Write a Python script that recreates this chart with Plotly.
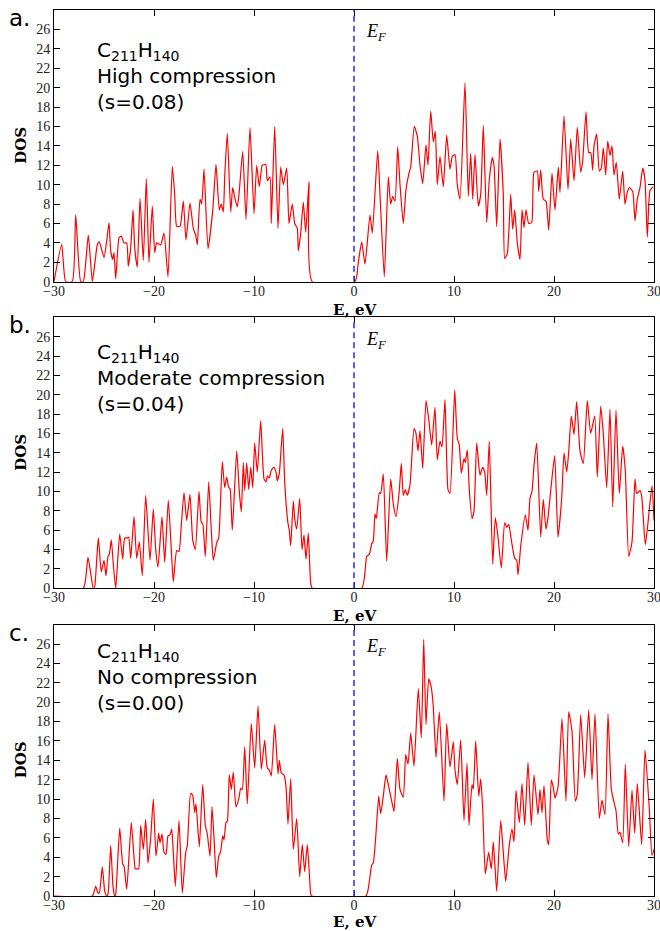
import plotly.graph_objects as go

# ---------------- data ----------------
energy_a = [-30.0, -29.23, -28.83, -28.17, -27.83, -27.33, -27.07, -26.57, -26.17, -25.9, -25.67, -25.47,
            -25.0, -24.73, -24.5, -24.33, -24.13, -24.0, -23.83, -23.5, -23.27, -23.0, -22.73, -22.57,
            -22.33, -22.1, -21.93, -21.67, -21.4, -21.07, -20.77, -20.5, -20.17, -19.93, -19.73, -19.33,
            -19.0, -18.6, -18.17, -17.93, -17.73, -17.4, -17.07, -16.8, -16.4, -16.07, -15.83, -15.67,
            -15.4, -15.23, -15.0, -14.6, -14.13, -13.8, -13.47, -13.27, -13.07, -12.93, -12.67, -12.33,
            -12.13, -11.93, -11.67, -11.5, -11.13, -10.8, -10.4, -10.0, -9.73, -9.47, -9.17, -8.83,
            -8.67, -8.4, -8.27, -7.93, -7.6, -7.33, -7.07, -6.73, -6.5, -6.17, -5.93, -5.67, -5.57,
            -5.33, -5.07, -4.83, -4.5, -4.17,
            0.1, 0.43, 0.77, 1.1, 1.6, 1.83, 2.37, 2.6, 3.03, 3.43, 3.67, 3.87, 4.1, 4.37, 4.6, 4.93,
            5.2, 5.5, 5.67, 6.03, 6.33, 6.6, 6.87, 7.2, 7.4, 7.67, 7.93, 8.13, 8.33, 8.6, 8.93, 9.27,
            9.6, 9.83, 10.1, 10.33, 10.6, 11.1, 11.43, 11.67, 11.87, 12.1, 12.43, 12.67, 12.93, 13.27,
            13.53, 13.83, 14.0, 14.27, 14.6, 14.93, 15.07, 15.33, 15.67, 15.87, 16.07, 16.33, 16.6,
            16.8, 17.0, 17.2, 17.47, 17.77, 18.0, 18.33, 18.47, 18.67, 18.93, 19.2, 19.47, 19.8, 20.1,
            20.43, 20.6, 21.0, 21.4, 21.67, 22.0, 22.33, 22.67, 22.87, 23.2, 23.47, 23.67, 23.87, 24.0,
            24.27, 24.53, 24.73, 24.93, 25.17, 25.37, 25.6, 25.8, 26.0, 26.23, 26.53, 26.87, 27.1,
            27.33, 27.53, 27.87, 28.1, 28.33, 28.6, 28.87, 29.1, 29.33, 29.6, 29.93]
dos_a = [0.0, 3.85, 0.0, 0.0, 6.9, 0.0, 0.0, 4.8, 0.0, 2.0, 3.8, 4.1,
         2.5, 4.2, 6.1, 3.2, 2.3, 3.0, 0.3, 4.5, 4.7, 4.0, 4.0, 1.6,
         3.5, 7.4, 3.5, 1.5, 8.6, 2.2, 10.6, 2.0, 7.8, 3.0, 4.0, 3.8,
         5.0, 0.5, 11.9, 9.0, 5.7, 5.7, 8.3, 4.3, 8.1, 5.5, 4.8, 3.8,
         8.5, 8.0, 11.6, 3.4, 7.3, 12.1, 7.4, 8.0, 7.2, 10.8, 15.3, 7.2,
         9.7, 8.7, 7.7, 9.0, 13.4, 6.4, 15.9, 7.0, 12.0, 9.8, 12.0, 12.1,
         10.4, 10.8, 6.0, 16.0, 5.5, 11.8, 10.0, 11.7, 6.0, 8.0, 6.0, 5.5, 3.2,
         5.0, 8.2, 5.1, 10.3, 0.0,
         0.0, 2.0, 4.1, 1.8, 6.9, 5.0, 13.5, 9.0, 0.5, 10.8, 8.0, 8.8, 8.3, 13.9, 10.0, 6.0,
         9.5, 11.2, 11.8, 16.0, 15.0, 12.0, 10.1, 14.1, 12.0, 17.6, 14.4, 15.5, 10.0, 12.9, 9.8, 15.1,
         11.6, 12.9, 13.1, 10.0, 8.5, 20.5, 8.8, 13.2, 8.5, 13.1, 7.8, 9.0, 16.1, 6.1,
         10.5, 12.8, 12.0, 5.7, 14.7, 9.0, 2.4, 2.9, 9.0, 5.4, 7.4, 4.0, 2.3,
         7.4, 5.6, 7.4, 6.0, 6.1, 11.3, 11.4, 9.3, 11.5, 8.5, 8.3, 5.3, 11.2, 7.4,
         11.8, 9.2, 17.1, 9.5, 14.7, 10.4, 15.9, 11.3, 12.5, 17.5, 13.3, 13.3, 11.5, 14.0,
         15.2, 11.4, 11.7, 13.8, 11.0, 14.5, 13.0, 14.0, 11.0, 12.3, 8.5, 11.4, 8.0,
         9.2, 9.7, 9.3, 6.3, 8.5, 9.7, 11.7, 10.5, 4.6, 9.4, 9.8]

energy_b = [-30.0, -27.07, -26.6, -26.07, -25.93, -25.57, -25.27, -25.0, -24.8, -24.6, -24.47, -24.27,
            -24.07, -23.83, -23.43, -23.13, -22.93, -22.67, -22.53, -22.33, -22.0, -21.73, -21.47,
            -21.17, -20.83, -20.4, -20.07, -19.83, -19.6, -19.2, -18.93, -18.57, -18.27, -18.07,
            -17.73, -17.5, -17.27, -17.0, -16.73, -16.4, -16.13, -15.87, -15.5, -15.27, -15.13,
            -14.87, -14.53, -14.27, -14.07, -13.73, -13.53, -13.17, -12.93, -12.73, -12.53, -12.4,
            -12.17, -11.73, -11.47, -11.27, -11.07, -10.93, -10.73, -10.53, -10.33, -10.13, -9.93,
            -9.67, -9.33, -9.0, -8.8, -8.67, -8.47, -8.27, -8.0, -7.8, -7.67, -7.47, -7.13, -6.93,
            -6.6, -6.47, -6.33, -6.07, -5.93, -5.73, -5.43, -5.2, -5.0, -4.8, -4.57, -4.33, -4.17,
            0.77, 1.27, 1.53, 1.77, 1.93, 2.1, 2.23, 2.53, 2.67, 2.93, 3.27, 3.67, 3.93, 4.2, 4.53,
            4.73, 4.93, 5.13, 5.33, 5.6, 6.0, 6.2, 6.4, 6.6, 6.87, 7.2, 7.47, 7.77, 8.1, 8.33, 8.6,
            8.8, 9.1, 9.4, 9.6, 10.07, 10.33, 10.53, 10.73, 11.0, 11.13, 11.33, 11.53, 11.8, 12.0,
            12.27, 12.6, 12.87, 13.07, 13.27, 13.53, 13.87, 14.13, 14.4, 14.73, 15.07, 15.27, 15.47,
            15.73, 16.07, 16.27, 16.4, 16.7, 17.13, 17.4, 17.6, 17.8, 18.0, 18.27, 18.67, 18.93,
            19.2, 19.4, 19.73, 20.07, 20.4, 20.77, 21.0, 21.27, 21.47, 21.73, 22.0, 22.27, 22.6,
            22.93, 23.33, 23.67, 24.07, 24.33, 24.67, 24.93, 25.27, 25.6, 25.87, 26.2, 26.53, 26.87,
            27.13, 27.47, 27.8, 28.1, 28.27, 28.6, 28.77, 29.13, 29.4, 29.8, 30.0]
dos_b = [0.0, 0.0, 3.2, 0.0, 0.2, 5.2, 1.7, 2.9, 1.3, 3.3, 3.5, 5.0,
         2.5, 0.0, 5.6, 3.0, 5.2, 5.2, 5.3, 3.1, 7.4, 3.1, 4.8,
         1.3, 9.6, 2.9, 8.2, 4.0, 2.2, 7.4, 2.7, 9.1, 4.0, 0.7,
         3.9, 3.8, 6.5, 9.9, 7.0, 9.7, 5.0, 4.0, 10.0, 6.8, 6.7,
         3.3, 11.0, 6.0, 2.9, 4.7, 5.2, 13.1, 10.4, 11.5, 10.4, 10.3,
         6.0, 14.2, 10.0, 7.9, 13.0, 10.1, 13.0, 10.2, 12.5, 10.4, 15.0,
         12.0, 17.3, 11.3, 11.0, 11.6, 11.4, 12.2, 12.5, 12.0, 11.1, 11.9, 16.5, 11.0,
         6.7, 6.0, 4.4, 9.0, 7.2, 6.1, 9.3, 4.0, 5.5, 3.0, 5.7, 0.5, 0.0,
         0.0, 3.3, 3.5, 4.6, 4.9, 7.7, 7.2, 9.9, 9.8, 11.8, 2.8, 11.3, 8.7, 7.4, 10.1,
         12.9, 9.6, 10.2, 9.6, 10.7, 16.5, 16.0, 14.2, 16.3, 12.4, 19.4, 17.5, 14.8, 18.7, 13.3, 15.2,
         14.6, 19.5, 10.2, 9.8, 20.5, 15.5, 14.8, 11.9, 13.4, 13.0, 14.3, 10.2, 7.2, 8.0,
         15.0, 11.7, 12.5, 12.0, 9.6, 15.2, 2.5, 7.3, 5.3, 2.1, 6.8, 6.3, 6.6,
         5.0, 3.1, 2.9, 1.4, 4.6, 7.6, 6.0, 9.3, 10.0, 12.7, 15.0, 5.3, 9.2,
         6.1, 7.3, 10.7, 13.7, 5.3, 9.3, 14.0, 12.0, 14.1, 17.8, 15.9, 19.3, 14.2,
         12.9, 19.4, 16.0, 17.8, 11.5, 18.8, 16.0, 10.4, 18.5, 8.4, 18.4, 9.8, 14.7,
         12.2, 3.3, 4.8, 11.3, 9.8, 10.1, 9.5, 4.5, 6.8, 10.6, 7.0]

energy_c = [-30.0, -26.17, -25.83, -25.6, -25.47, -25.17, -24.93, -24.73, -24.6, -24.33, -24.1, -23.93,
            -23.83, -23.43, -23.13, -23.0, -22.73, -22.27, -22.0, -21.87, -21.67, -21.53, -21.33,
            -21.07, -20.83, -20.6, -20.33, -20.07, -19.8, -19.53, -19.4, -19.2, -19.0, -18.8, -18.6,
            -18.4, -18.23, -18.07, -17.87, -17.5, -17.17, -16.83, -16.67, -16.33, -16.13, -15.93,
            -15.8, -15.47, -15.13, -14.87, -14.67, -14.4, -14.2, -14.0, -13.77, -13.53, -13.33,
            -13.13, -13.0, -12.8, -12.67, -12.47, -12.27, -12.07, -11.8, -11.53, -11.33, -11.17,
            -10.93, -10.67, -10.27, -9.93, -9.6, -9.27, -8.93, -8.67, -8.47, -8.27, -7.93, -7.6,
            -7.47, -7.27, -7.0, -6.8, -6.6, -6.33, -6.07, -5.73, -5.43, -5.17, -4.93, -4.67, -4.5,
            -4.33, -4.23,
            1.2, 1.53, 1.77, 1.93, 2.2, 2.47, 2.67, 2.93, 3.2, 3.43, 3.77, 4.0, 4.33, 4.6, 4.93, 5.17,
            5.4, 5.67, 6.0, 6.43, 6.73, 6.97, 7.2, 7.47, 7.73, 7.93, 8.2, 8.53, 9.0, 9.27, 9.6, 9.93,
            10.1, 10.33, 10.67, 11.0, 11.3, 11.5, 11.8, 11.93, 12.17, 12.47, 12.67, 12.87, 13.13,
            13.47, 13.73, 13.93, 14.27, 14.67, 14.93, 15.17, 15.53, 15.8, 16.0, 16.2, 16.53, 16.8,
            17.07, 17.4, 17.73, 18.0, 18.4, 18.6, 18.8, 19.0, 19.33, 19.47, 19.73, 19.93, 20.1, 20.4,
            20.8, 21.2, 21.47, 21.8, 22.13, 22.33, 22.67, 23.07, 23.47, 23.8, 24.1, 24.53, 24.8, 25.1,
            25.4, 25.73, 25.93, 26.2, 26.43, 26.6, 26.87, 27.13, 27.47, 27.8, 28.07, 28.33, 28.77,
            29.1, 29.53, 29.8, 30.07]
dos_c = [0.0, 0.0, 1.0, 0.3, 0.3, 3.0, 0.5, 0.0, 0.2, 5.2, 1.0, 0.0,
         0.2, 7.0, 3.3, 3.1, 0.7, 7.6, 4.0, 2.8, 2.8, 2.8, 7.3,
         4.8, 7.9, 3.4, 6.0, 10.0, 4.1, 6.5, 5.5, 6.4, 4.5, 4.3, 6.2,
         6.3, 6.9, 4.5, 1.0, 7.8, 0.3, 4.5, 5.2, 10.6, 10.4, 8.6,
         9.5, 5.1, 11.5, 7.3, 6.4, 4.1, 9.2, 6.0, 1.9, 4.1, 4.6,
         6.2, 5.8, 7.6, 7.7, 12.5, 11.0, 12.8, 9.2, 10.0, 11.1, 11.0,
         15.4, 9.5, 17.8, 13.2, 19.6, 13.1, 16.1, 13.2, 13.0, 12.4, 17.7, 12.6,
         14.0, 12.7, 12.5, 11.3, 7.4, 12.1, 4.8, 8.0, 2.0, 5.3, 2.5, 5.3, 3.0,
         0.2, 0.0,
         0.0, 1.5, 3.2, 3.4, 6.5, 10.3, 8.5, 10.3, 12.5, 11.5, 9.8, 8.7, 14.2, 11.0, 10.2, 14.6,
         13.6, 16.8, 13.4, 21.4, 16.3, 26.5, 17.7, 22.4, 21.5, 19.5, 14.3, 19.0, 9.8, 17.8, 13.3, 15.9,
         13.0, 11.5, 16.1, 7.8, 13.7, 7.3, 11.5, 11.0, 16.0, 10.3, 12.1, 9.0, 2.3,
         4.5, 2.8, 5.6, 0.5, 7.8, 4.5, 1.5, 5.3, 6.9, 5.6, 10.9, 7.6, 11.6,
         7.3, 13.8, 7.3, 12.5, 8.4, 11.0, 8.6, 11.4, 5.8, 5.3, 12.0, 11.2, 10.1, 11.2,
         18.3, 9.8, 19.0, 17.0, 9.8, 10.5, 18.7, 12.2, 19.2, 12.0, 18.8, 8.0, 9.9, 8.4,
         18.8, 11.0, 10.0, 8.8, 6.4, 6.6, 5.5, 13.6, 5.1, 10.9, 6.5, 11.6, 5.3,
         15.1, 9.0, 4.2, 5.0]

panel_letters = ["a.", "b.", "c."]
compression_labels = ["High compression", "Moderate compression", "No compression"]
s_labels = ["(s=0.08)", "(s=0.04)", "(s=0.00)"]
formula = "C<sub>211</sub>H<sub>140</sub>"
x_ticks = [-30, -20, -10, 0, 10, 20, 30]
y_ticks = list(range(0, 27, 2))

# ---------------- layout helpers ----------------
W, H = 660, 931
ML, MR, MT, MB = 54, 6, 10, 35
PW, PH = W - ML - MR, H - MT - MB


def px(xp):
    return (xp - ML) / PW


def py(yp):
    return 1 - (yp - MT) / PH


# pixel positions of each panel (top, bottom)
panels_px = [(10.0, 281.7), (317.3, 588.3), (624.7, 896.0)]
series = [(energy_a, dos_a), (energy_b, dos_b), (energy_c, dos_c)]
label_gap = [28.5, 27.5, 25.5]

fig = go.Figure()
serif = "Liberation Serif"
bold_serif = "DejaVu Serif"
sans = "DejaVu Sans"

annotations = []
shapes = []
for i, ((top, bot), (ex, dy)) in enumerate(zip(panels_px, series)):
    n = "" if i == 0 else str(i + 1)
    xa = "x" + n
    ya = "y" + n
    fig.add_trace(go.Scatter(x=ex, y=dy, mode="lines", xaxis=xa, yaxis=ya,
                             line=dict(color="#ff0000", width=1.2, shape="spline", smoothing=0.5),
                             showlegend=False, hoverinfo="skip"))
    axis_common = dict(showline=True, linecolor="black", linewidth=1, mirror="allticks",
                       ticks="inside", ticklen=6, tickwidth=1, tickcolor="black",
                       showgrid=False, zeroline=False, automargin=False,
                       ticklabeloverflow="allow",
                       tickfont=dict(family=serif, size=14, color="#222"))
    fig.update_layout(**{
        ("xaxis" + n): dict(domain=[0, 1], range=[-30, 30], tickvals=x_ticks,
                           anchor=ya, ticklabelstandoff=-4, **axis_common),
        ("yaxis" + n): dict(domain=[py(bot), py(top)], range=[0, 28], tickvals=y_ticks,
                           anchor=xa, **axis_common),
    })
    shapes.append(dict(type="line", xref=xa, yref=ya, x0=0, x1=0, y0=0, y1=28,
                       line=dict(color="#3535f5", width=1.6, dash="6px,4px")))
    # panel letter
    annotations.append(dict(text=panel_letters[i], xref="paper", yref="paper",
                            x=px(7), y=py(top + 8), xanchor="left", yanchor="middle",
                            showarrow=False, font=dict(family=sans, size=23, color="black")))
    # DOS label
    annotations.append(dict(text="<b>DOS</b>", xref="paper", yref="paper", x=px(21),
                            y=py((top + bot) / 2), xanchor="center", yanchor="middle",
                            textangle=-90, showarrow=False,
                            font=dict(family=bold_serif, size=15, color="black")))
    # E, eV label
    annotations.append(dict(text="<b>E, eV</b>", xref="paper", yref="paper", x=px(354),
                            y=py(bot + label_gap[i]), xanchor="center", yanchor="middle",
                            showarrow=False, font=dict(family=bold_serif, size=15, color="black")))
    # E_F label
    annotations.append(dict(text="<i>E</i><sub><i>F</i></sub>", xref="paper", yref="paper",
                            x=px(364), y=py(top + 23), xanchor="left", yanchor="middle",
                            showarrow=False, font=dict(family=serif, size=18, color="black")))

# text block: center y px of the middle line
text_mid_px = [76, 378, 677]
for i, ym in enumerate(text_mid_px):
    txt = formula + "<br>" + compression_labels[i] + "<br>" + s_labels[i]
    annotations.append(dict(text=txt, xref="paper", yref="paper", x=px(95),
                            y=py(ym), xanchor="left", yanchor="middle", align="left",
                            showarrow=False, font=dict(family=sans, size=20, color="black")))

fig.update_layout(width=W, height=H, margin=dict(l=ML, r=MR, t=MT, b=MB),
                  paper_bgcolor="white", plot_bgcolor="white", template="none",
                  annotations=annotations, shapes=shapes, showlegend=False)

fig.write_html("out.html")
